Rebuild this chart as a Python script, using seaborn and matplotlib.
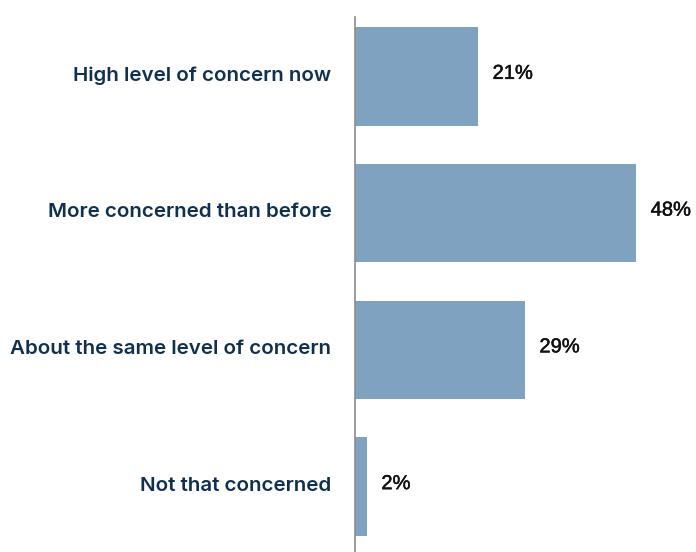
import matplotlib
matplotlib.use("Agg")
import matplotlib.pyplot as plt
import matplotlib.transforms as mtransforms
import matplotlib.patheffects as pe
import seaborn as sns
import pandas as pd

categories = [
    "High level of concern now",
    "More concerned than before",
    "About the same level of concern",
    "Not that concerned",
]
values = [21, 48, 29, 2]

sns.set_theme(style="white")
plt.rcParams["font.family"] = ["Inter", "DejaVu Sans"]

df = pd.DataFrame({"category": categories, "value": values})

W, H = 696, 552
fig = plt.figure(figsize=(W / 100, H / 100), dpi=100)
ax = fig.add_axes([355 / W, 0, 341 / W, (552 - 17) / H])

sns.barplot(data=df, x="value", y="category", orient="h", color="#7fa2c1",
            saturation=1, width=0.72, linewidth=0, ax=ax)

ax.set_xlim(0, 341 / 5.854)
ax.set_ylim(3.478, -0.434)
ax.set_xlabel("")
ax.set_ylabel("")
ax.set_xticks([])
for s in ["top", "right", "bottom"]:
    ax.spines[s].set_visible(False)
ax.spines["left"].set_color("#8c8c8c")
ax.spines["left"].set_linewidth(1.2)

# nudge all text slightly upward
lift = mtransforms.ScaledTranslation(0, 3 / 100, fig.dpi_scale_trans)

ax.tick_params(axis="y", length=0, pad=17)
for lbl in ax.get_yticklabels():
    lbl.set_fontsize(14.8)
    lbl.set_fontweight("semibold")
    lbl.set_color("#10304f")
    lbl.set_transform(lbl.get_transform() + lift)

for i, v in enumerate(values):
    ax.text(v + 2.5, i, f"{v}%", va="center", ha="left", fontsize=14.5,
            color="#111111", family=["Liberation Sans", "DejaVu Sans"],
            transform=ax.transData + lift,
            path_effects=[pe.withStroke(linewidth=0.35, foreground="#111111")])

fig.savefig("out.png", dpi=100)
